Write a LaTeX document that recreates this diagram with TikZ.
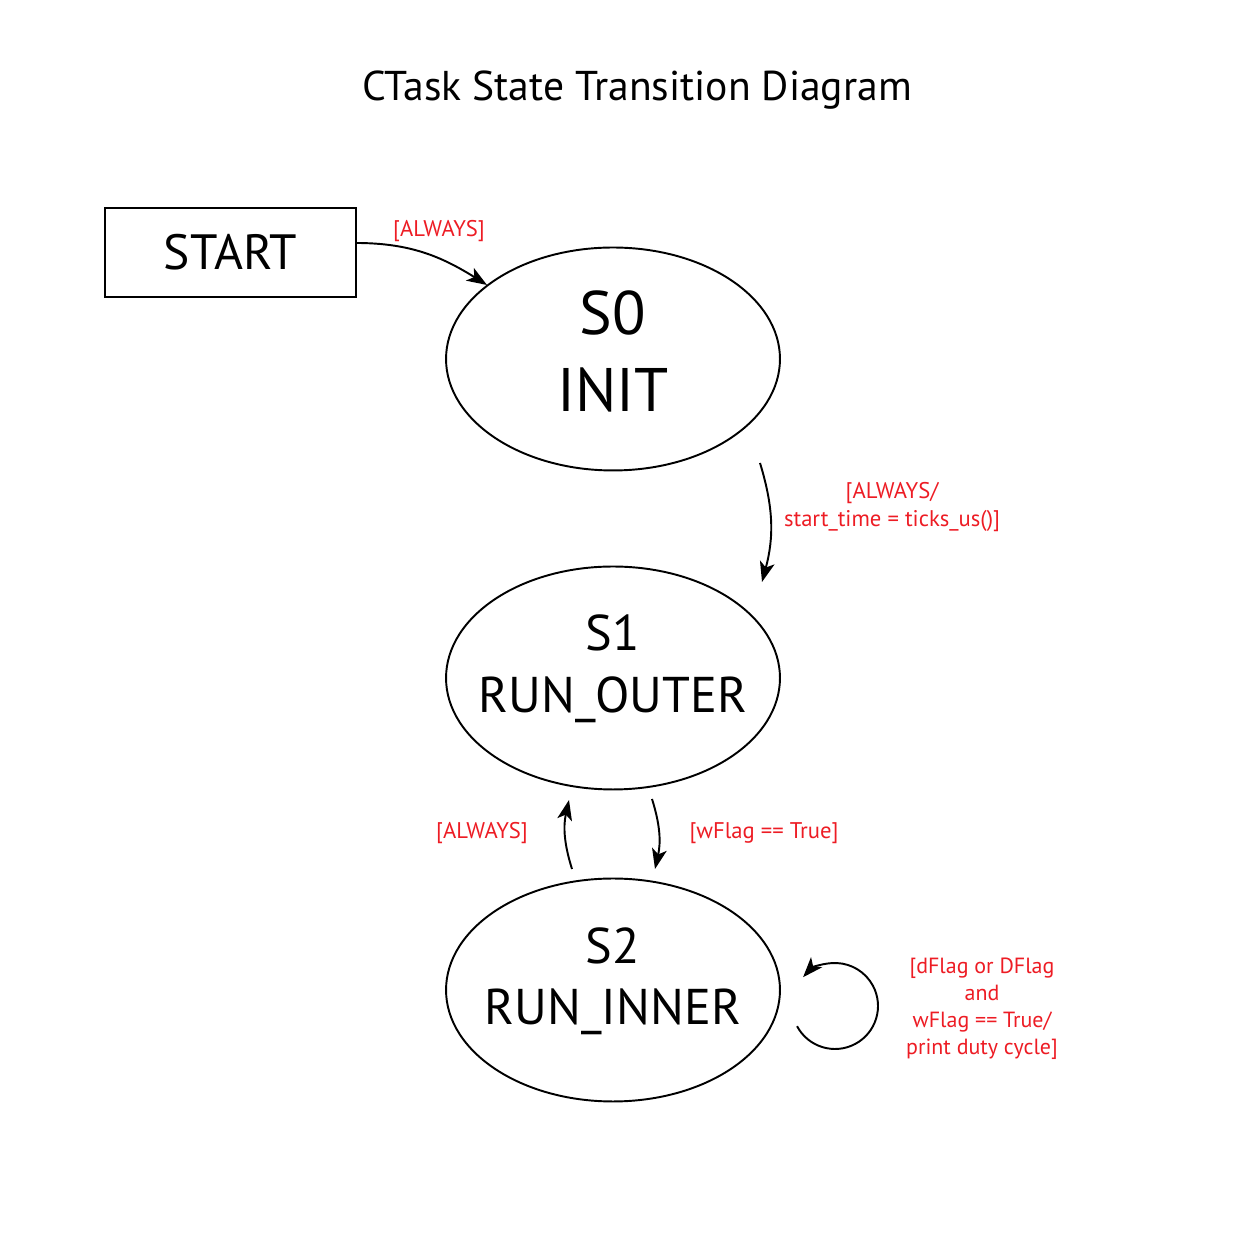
\documentclass[tikz,border=0pt]{standalone}
\usepackage{fontspec}
\setmainfont{PT Sans}
\usetikzlibrary{shapes.geometric,arrows.meta,calc}
\definecolor{lblred}{RGB}{237,28,36}
\tikzset{
  conn/.style={line width=1.1pt,-{Stealth[length=11.5pt,width=8.5pt,inset=3pt]}},
  statebox/.style={draw,line width=1.1pt,ellipse,inner sep=0pt,minimum width=6.68cm,minimum height=4.46cm},
  statetext/.style={inner sep=0pt,align=center},
  startbox/.style={draw,line width=1.1pt,rectangle,inner sep=0pt,minimum width=5.02cm,minimum height=1.78cm},
  lbl/.style={text=lblred,align=center,inner sep=0pt,font=\fontsize{12.9}{15.9}\selectfont},
}
\begin{document}
\begin{tikzpicture}[x=0.02cm,y=0.02cm]
\useasboundingbox (0,0) rectangle (1250,1250);
\node[inner sep=0pt,font=\fontsize{23.7}{28}\selectfont] (title) at (637,1160) {CTask State Transition Diagram};
\node[startbox,font=\fontsize{28.2}{34}\selectfont] (start) at (230.5,997.5) {START};
\node[statebox] (s0) at (613,891) {};
\node[statebox] (s1) at (613,572) {};
\node[statebox] (s2) at (613,260) {};
\node[statetext,font=\fontsize{35}{44.2}\selectfont] (s0t) at ($(s0)+(0,7.5)$) {S0\\INIT};
\node[statetext,font=\fontsize{28.6}{35}\selectfont] (s1t) at ($(s1)+(0,9)$) {S1\\RUN\_OUTER};
\node[statetext,font=\fontsize{28.6}{35}\selectfont] (s2t) at ($(s2)+(0,8.5)$) {S2\\RUN\_INNER};
% free ends
\coordinate (a1s) at (356,1007);
\coordinate (a1e) at (487,965);
\coordinate (a2s) at (760,787);
\coordinate (a2e) at (762,668);
\coordinate (a3s) at (652,451);
\coordinate (a3e) at (655,381);
\coordinate (a4s) at (572,381);
\coordinate (a4e) at (569,450);
\coordinate (loopc) at (835,244);
\coordinate (a5s) at ($(loopc)+(-152:0.86cm)$);
% connectors
\draw[conn] (a1s) to[out=0,in=148] (a1e);
\draw[conn] (a2s) to[bend left=16] (a2e);
\draw[conn] (a3s) to[bend left=15] (a3e);
\draw[conn] (a4s) to[bend left=15] (a4e);
\draw[conn] (a5s) arc[start angle=-152,end angle=138,radius=0.86cm];
% labels
\node[lbl] (l1) at (439,1019) {[ALWAYS]};
\node[lbl] (l2) at (892,743) {[ALWAYS/\\start\_time = ticks\_us()]};
\node[lbl] (l3) at (764,417) {[wFlag == True]};
\node[lbl] (l4) at (482,417) {[ALWAYS]};
\node[lbl,font=\fontsize{12.5}{15.3}\selectfont] (l5) at (982,241) {[dFlag or DFlag\\and\\wFlag == True/\\print duty cycle]};
\end{tikzpicture}
\end{document}
